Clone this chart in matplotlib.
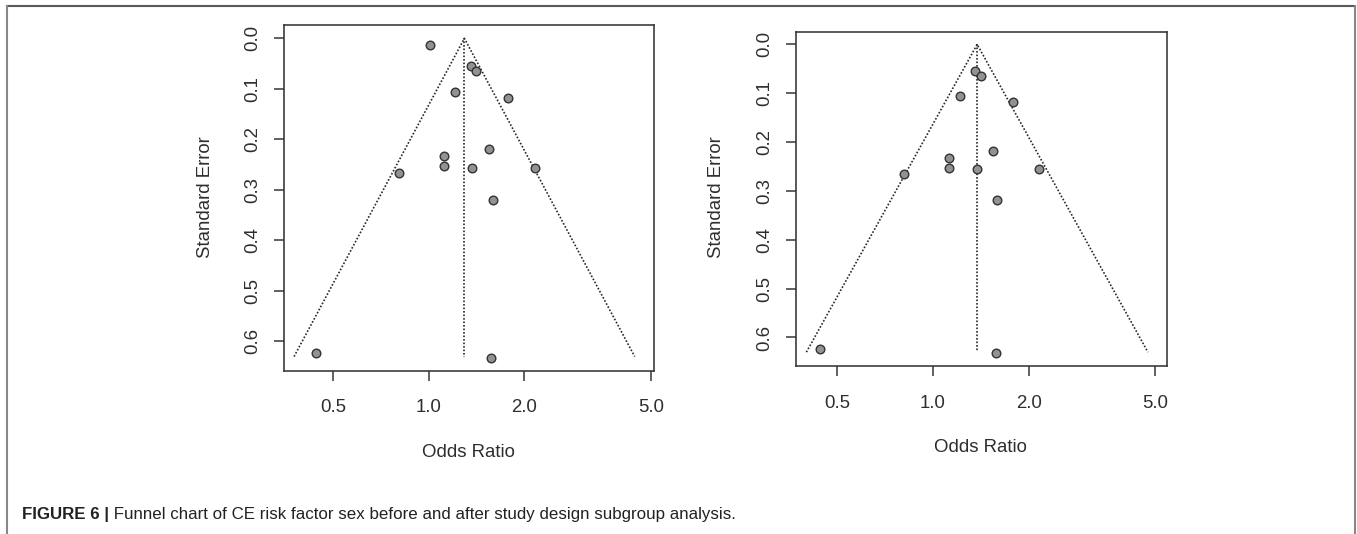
import numpy as np
import matplotlib
matplotlib.use("Agg")
import matplotlib.pyplot as plt
from matplotlib.lines import Line2D

W, H = 1357, 534
DPI = 100

# ---- data ----
or_before = [1.01, 1.355, 1.41, 1.21, 1.775, 1.545, 1.12, 1.12, 1.37, 2.16, 0.805, 1.595, 0.443, 1.57]
se_before = [0.014, 0.054, 0.064, 0.106, 0.119, 0.220, 0.233, 0.252, 0.256, 0.256, 0.266, 0.320, 0.623, 0.633]
or_after = [1.361, 1.418, 1.221, 1.781, 1.55, 1.128, 1.128, 1.375, 2.16, 0.812, 1.596, 0.443, 1.58]
se_after = [0.054, 0.064, 0.106, 0.118, 0.219, 0.2335, 0.2527, 0.256, 0.256, 0.265, 0.319, 0.6226, 0.632]
pooled_before = 1.295
pooled_after = 1.378
se_max = 0.63
x_ticks = [0.5, 1.0, 2.0, 5.0]
x_tick_labels = ["0.5", "1.0", "2.0", "5.0"]
y_ticks = [0.0, 0.1, 0.2, 0.3, 0.4, 0.5, 0.6]
y_tick_labels = ["0.0", "0.1", "0.2", "0.3", "0.4", "0.5", "0.6"]
caption_bold = "FIGURE 6 |"
caption_text = " Funnel chart of CE risk factor sex before and after study design subgroup analysis."

plt.rcParams['font.family'] = ['Liberation Sans', 'DejaVu Sans']
TXT = '#2e2e2e'
AX = '#353535'

fig = plt.figure(figsize=(W / DPI, H / DPI), dpi=DPI)
fig.patch.set_facecolor('white')


def px_axes(x0, y0, x1, y1):
    return fig.add_axes([x0 / W, 1 - y1 / H, (x1 - x0) / W, (y1 - y0) / H])


def funnel(ax, ors, ses, pooled, xlim, ylim):
    ax.set_xscale('log')
    c = np.log(pooled)
    lo = np.exp(c - 1.96 * se_max)
    hi = np.exp(c + 1.96 * se_max)
    ax.plot([lo, pooled, hi], [se_max, 0, se_max], color='#2a2a2a', lw=1.2,
            linestyle=(0, (1, 1.1)))
    ax.plot([pooled, pooled], [0, se_max], color='#2a2a2a', lw=1.2,
            linestyle=(0, (1, 1.1)))
    ax.plot(ors, ses, linestyle='none', marker='o', markersize=6.2,
            markerfacecolor='#929292', markeredgecolor='#333333', markeredgewidth=1.0)
    ax.set_xlim(*xlim)
    ax.set_ylim(*ylim)
    ax.set_xticks(x_ticks)
    ax.set_xticklabels(x_tick_labels)
    ax.xaxis.set_minor_locator(matplotlib.ticker.NullLocator())
    ax.set_yticks(y_ticks)
    ax.set_yticklabels(y_tick_labels, rotation=90, va='center')
    ax.tick_params(axis='both', direction='out', length=7.5, width=1.1, color=AX,
                   labelsize=13.4, labelcolor=TXT)
    ax.tick_params(axis='x', pad=13)
    ax.tick_params(axis='y', pad=9)
    for s in ax.spines.values():
        s.set_color(AX)
        s.set_linewidth(1.15)


ax1 = px_axes(284.3, 24.7, 654.0, 370.7)
funnel(ax1, or_before, se_before, pooled_before, (0.351, 5.12), (0.658, -0.027))
ax2 = px_axes(795.7, 31.7, 1167.3, 366.3)
funnel(ax2, or_after, se_after, pooled_after, (0.371, 5.45), (0.659, -0.026))


def ftext(x, y, s, **kw):
    return fig.text(x / W, 1 - y / H, s, **kw)


ftext(205, 197, "Standard Error", rotation=90, ha='center', va='center', fontsize=13.4, color=TXT)
ftext(468, 452.7, "Odds Ratio", ha='center', va='center', fontsize=13.4, color=TXT)
ftext(716.7, 197, "Standard Error", rotation=90, ha='center', va='center', fontsize=13.4, color=TXT)
ftext(980.7, 448, "Odds Ratio", ha='center', va='center', fontsize=13.4, color=TXT)

# outer frame
fig.add_artist(Line2D([7 / W, 1355 / W], [1 - 6 / H, 1 - 6 / H], transform=fig.transFigure,
                      color='#5a5a5a', lw=1.5))
fig.add_artist(Line2D([7 / W, 7 / W], [1 - 6 / H, 0], transform=fig.transFigure,
                      color='#888888', lw=1.5))
fig.add_artist(Line2D([1355 / W, 1355 / W], [1 - 6 / H, 0], transform=fig.transFigure,
                      color='#888888', lw=1.5))

# caption
cap_font = ['Liberation Sans', 'DejaVu Sans']
t1 = ftext(22, 514, caption_bold, ha='left', va='center', fontsize=12.2, fontweight='bold',
           color='#222222', family=cap_font)
fig.canvas.draw()
bb = t1.get_window_extent(renderer=fig.canvas.get_renderer())
ftext(bb.x1, 514, caption_text, ha='left', va='center', fontsize=12.2,
      color='#222222', family=cap_font)

fig.savefig('out.png', dpi=DPI, facecolor='white')
